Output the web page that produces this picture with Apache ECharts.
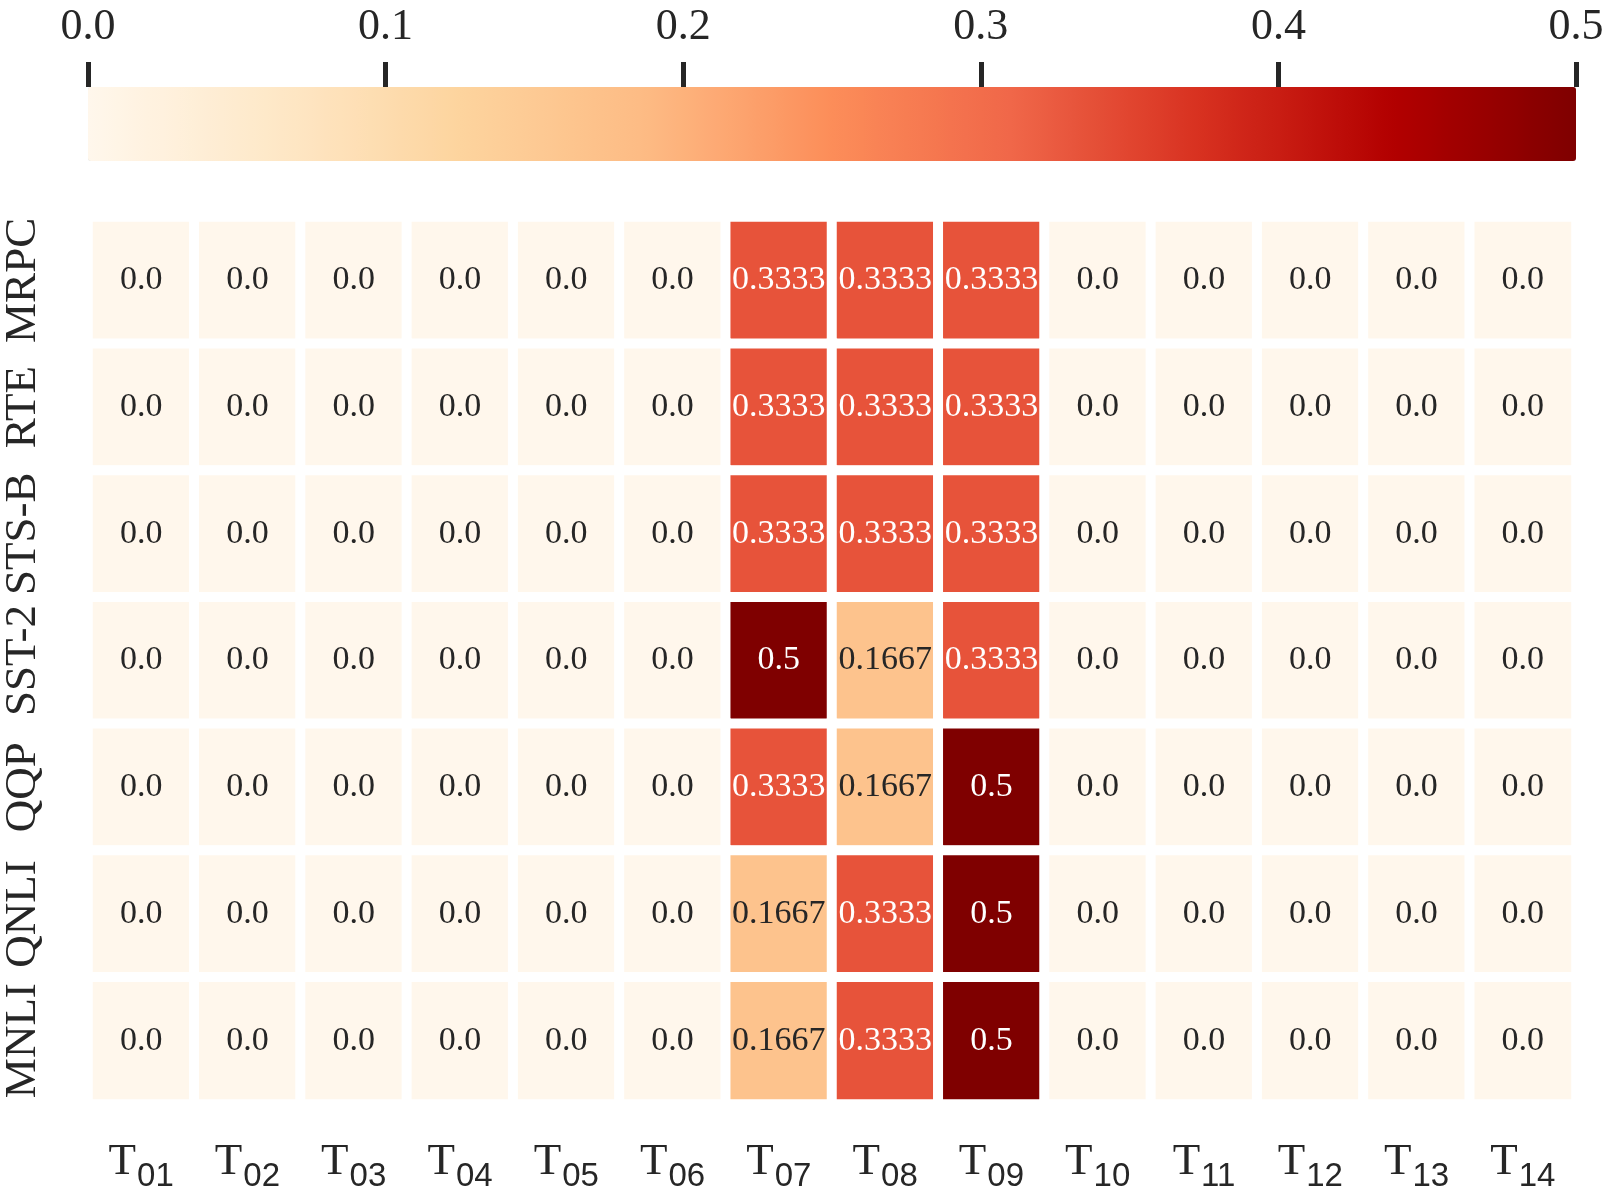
<!DOCTYPE html>
<html>
<head>
<meta charset="utf-8">
<script src="https://cdn.jsdelivr.net/npm/echarts@6/dist/echarts.min.js"></script>
<style>
  html, body { margin: 0; padding: 0; background: #fff; }
  #heat { width: 1607px; height: 1194px; }
</style>
</head>
<body>
<div id="heat"></div>
<script>
// rows top to bottom, columns T01..T14
var tasks = ['MRPC', 'RTE', 'STS-B', 'SST-2', 'QQP', 'QNLI', 'MNLI'];
var cols = ['01', '02', '03', '04', '05', '06', '07', '08', '09', '10', '11', '12', '13', '14'];
var row_mrpc = [0, 0, 0, 0, 0, 0, 0.3333, 0.3333, 0.3333, 0, 0, 0, 0, 0];
var row_rte  = [0, 0, 0, 0, 0, 0, 0.3333, 0.3333, 0.3333, 0, 0, 0, 0, 0];
var row_stsb = [0, 0, 0, 0, 0, 0, 0.3333, 0.3333, 0.3333, 0, 0, 0, 0, 0];
var row_sst2 = [0, 0, 0, 0, 0, 0, 0.5, 0.1667, 0.3333, 0, 0, 0, 0, 0];
var row_qqp  = [0, 0, 0, 0, 0, 0, 0.3333, 0.1667, 0.5, 0, 0, 0, 0, 0];
var row_qnli = [0, 0, 0, 0, 0, 0, 0.1667, 0.3333, 0.5, 0, 0, 0, 0, 0];
var row_mnli = [0, 0, 0, 0, 0, 0, 0.1667, 0.3333, 0.5, 0, 0, 0, 0, 0];
var rows = [row_mrpc, row_rte, row_stsb, row_sst2, row_qqp, row_qnli, row_mnli];

// OrRd
var orrd = ['#fff7ec', '#fee8c8', '#fdd49e', '#fdbb84', '#fc8d59', '#ef6548', '#d7301f', '#b30000', '#7f0000'];

var cells = [];
for (var i = 0; i < rows.length; i++) {
    for (var j = 0; j < cols.length; j++) {
        var v = rows[i][j];
        cells.push({
            value: [j, i, v],
            label: { color: v > 0.25 ? '#ffffff' : '#262626' }
        });
    }
}

var myChart = echarts.init(document.getElementById('heat'));
var option = {
    backgroundColor: '#ffffff',
    textStyle: { fontFamily: 'Liberation Serif' },
    grid: [
        { left: 88, width: 1488, top: 217, height: 887 },
        { left: 88, width: 1488, top: 87, height: 74 }
    ],
    xAxis: [
        {
            type: 'category', gridIndex: 0, data: cols,
            axisLine: { show: false }, axisTick: { show: false }, splitLine: { show: false },
            axisLabel: {
                margin: 36, interval: 0,
                formatter: function (c) { return '{t|T}{s|' + c + '}'; },
                rich: {
                    t: { fontFamily: 'Liberation Serif', fontSize: 45, color: '#262626', verticalAlign: 'bottom' },
                    s: { fontFamily: 'Liberation Sans', fontSize: 33, color: '#262626', verticalAlign: 'bottom', padding: [0, 0, -8, 1] }
                }
            }
        },
        {
            type: 'value', gridIndex: 1, position: 'top', min: 0, max: 0.5, interval: 0.1,
            axisLine: { show: false, onZero: false },
            axisTick: { show: true, length: 25, lineStyle: { width: 5, color: '#262626' } },
            splitLine: { show: false },
            axisLabel: {
                margin: 38, fontSize: 44, color: '#262626', fontFamily: 'Liberation Serif',
                formatter: function (v) { return v.toFixed(1); }
            }
        }
    ],
    yAxis: [
        {
            type: 'category', gridIndex: 0, data: tasks, inverse: true,
            axisLine: { show: false }, axisTick: { show: false }, splitLine: { show: false },
            axisLabel: { rotate: 90, margin: 42, fontSize: 45, color: '#262626', fontFamily: 'Liberation Serif', interval: 0 }
        },
        {
            type: 'value', gridIndex: 1, min: 0, max: 1, show: false
        }
    ],
    visualMap: {
        type: 'continuous', min: 0, max: 0.5, seriesIndex: 0,
        orient: 'horizontal', left: 88, top: 87, padding: 0,
        itemWidth: 74, itemHeight: 1488,
        calculable: false, hoverLink: false, text: null, showLabel: false,
        inRange: { color: orrd }
    },
    series: [{
        type: 'heatmap', xAxisIndex: 0, yAxisIndex: 0, data: cells,
        itemStyle: { borderColor: '#ffffff', borderWidth: 10 },
        label: {
            show: true, fontSize: 34, fontFamily: 'Liberation Serif',
            formatter: function (p) { var v = p.value[2]; return v === 0 ? '0.0' : String(v); }
        },
        emphasis: { disabled: true }
    }]
};
myChart.setOption(option);
</script>
</body>
</html>
